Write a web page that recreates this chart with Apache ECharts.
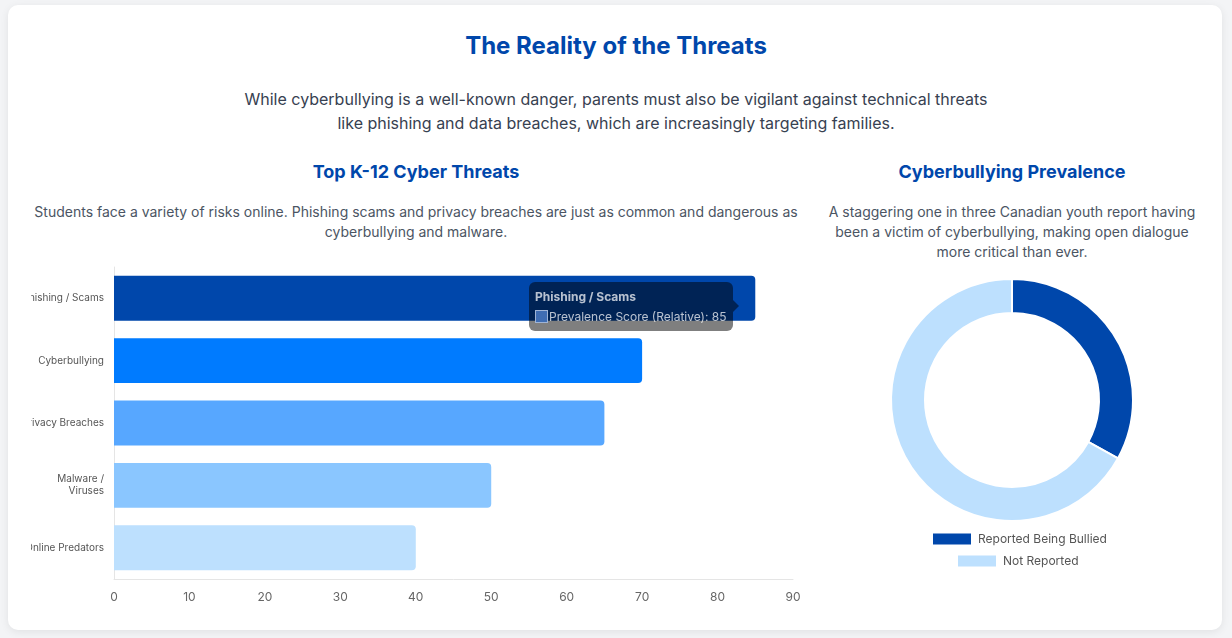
<!DOCTYPE html>
<html lang="en">
<head>
    <meta charset="UTF-8">
    <title>The Reality of the Threats</title>
    <style>
        html, body { margin: 0; padding: 0; }
        body { width: 1232px; height: 638px; background: #f3f4f6; font-family: Inter, "Noto Sans", sans-serif; position: relative; overflow: hidden; }
        .card { position: absolute; left: 8px; top: 5px; width: 1214px; height: 625px; background: #fff; border-radius: 10px; box-shadow: 0 2px 8px rgba(0,0,0,0.08); }
        .t { position: absolute; text-align: center; margin: 0; }
        h2.t { left: 0; width: 1232px; top: 30px; font-size: 24px; line-height: 32px; font-weight: 700; color: #0047ab; }
        p.sub { left: 216px; width: 800px; top: 87px; font-size: 16px; line-height: 24px; color: #374151; }
        h3.t { font-size: 18px; line-height: 28px; top: 158px; font-weight: 700; color: #0047ab; }
        p.desc { top: 202px; font-size: 14px; line-height: 20px; color: #4b5563; }
        .left { left: 31px; width: 770px; }
        .right { left: 822px; width: 380px; }
        #bar { position: absolute; left: 31px; top: 262px; width: 770px; height: 348px; }
        #pie { position: absolute; left: 822px; top: 262px; width: 380px; height: 348px; }
    </style>
</head>
<body>
<div class="card"></div>
<h2 class="t">The Reality of the Threats</h2>
<p class="t sub">While cyberbullying is a well-known danger, parents must also be vigilant against technical threats<br>like phishing and data breaches, which are increasingly targeting families.</p>
<h3 class="t left">Top K-12 Cyber Threats</h3>
<p class="t desc left">Students face a variety of risks online. Phishing scams and privacy breaches are just as common and dangerous as<br>cyberbullying and malware.</p>
<h3 class="t right">Cyberbullying Prevalence</h3>
<p class="t desc right">A staggering one in three Canadian youth report having<br>been a victim of cyberbullying, making open dialogue<br>more critical than ever.</p>
<div id="bar"></div>
<div id="pie"></div>
<script src="https://cdn.jsdelivr.net/npm/echarts@6/dist/echarts.min.js"></script>
<script type="text/javascript">
    // 数据
    var threatNames = ["Phishing / Scams", "Cyberbullying", "Privacy Breaches", "Malware / Viruses", "Online Predators"];
    var threatScores = [85, 70, 65, 50, 40];
    var threatColors = ["#0047ab", "#007bff", "#57a7ff", "#8ac6ff", "#bde0fe"];
    var xTicks = [0, 10, 20, 30, 40, 50, 60, 70, 80, 90];

    var bullyNames = ["Reported Being Bullied", "Not Reported"];
    var bullyValues = [33, 67];
    var bullyColors = ["#0047ab", "#bde0fe"];

    var barChart = echarts.init(document.getElementById("bar"));
    var barOption = {
        textStyle: { fontFamily: "Inter" },
        grid: { left: 83, right: 8, top: 5, bottom: 31, containLabel: false, outerBoundsMode: "none" },
        tooltip: {
            trigger: "item",
            triggerOn: "none",
            alwaysShowContent: true,
            transitionDuration: 0,
            backgroundColor: "rgba(0,0,0,0.5)",
            borderWidth: 0,
            borderRadius: 6,
            padding: [6, 6],
            extraCssText: "box-shadow:none;",
            position: [498, 20],
            formatter: function (p) {
                return '<div style="position:relative;color:rgba(255,255,255,0.72);font-family:Inter;font-size:12px;line-height:17px;">' +
                    '<div style="font-weight:700;margin-bottom:3px;">' + p.name + '</div>' +
                    '<div><span style="display:inline-block;width:11px;height:11px;background:#3f6db3;border:1px solid #9fb4d6;vertical-align:-2px;margin-right:1px;"></span>' +
                    'Prevalence Score (Relative): ' + p.value + '</div>' +
                    '<div style="position:absolute;right:-12px;top:12px;width:0;height:0;border-top:6px solid transparent;border-bottom:6px solid transparent;border-left:6px solid rgba(0,0,0,0.5);"></div>' +
                    '</div>';
            }
        },
        xAxis: {
            type: "value",
            min: xTicks[0],
            max: xTicks[xTicks.length - 1],
            interval: 10,
            axisLine: { show: true, lineStyle: { color: "#e5e5e5" } },
            axisTick: { show: false },
            splitLine: { show: false },
            axisLabel: { color: "#666", fontSize: 12, margin: 12 }
        },
        yAxis: {
            type: "category",
            inverse: true,
            data: threatNames,
            axisLine: { show: true, lineStyle: { color: "#e5e5e5" } },
            axisTick: { show: false },
            axisLabel: {
                color: "#555",
                fontSize: 10,
                margin: 10,
                lineHeight: 12,
                formatter: function (v) {
                    return v.length > 16 ? v.replace(" / ", " /\n") : v;
                }
            }
        },
        series: [{
            name: "Prevalence Score (Relative)",
            type: "bar",
            barCategoryGap: "28%",
            data: threatScores.map(function (v, i) {
                return { value: v, itemStyle: { color: threatColors[i] } };
            }),
            itemStyle: { borderRadius: [0, 4, 4, 0] },
            animation: false
        }]
    };
    barChart.setOption(barOption);
    barChart.dispatchAction({ type: "showTip", seriesIndex: 0, dataIndex: 0 });

    var pieChart = echarts.init(document.getElementById("pie"));
    var legendBase = {
        icon: "rect",
        itemWidth: 38,
        itemHeight: 11,
        itemGap: 7,
        itemStyle: { borderWidth: 0 },
        textStyle: { color: "#555", fontSize: 12, padding: [0, 0, 0, 2] }
    };
    var pieOption = {
        textStyle: { fontFamily: "Inter" },
        color: bullyColors,
        legend: [
            Object.assign({ data: [bullyNames[0]], top: 266, left: 106 }, legendBase),
            Object.assign({ data: [bullyNames[1]], top: 288, left: 131 }, legendBase)
        ],
        series: [{
            type: "pie",
            radius: [87, 121],
            center: [190, 138],
            startAngle: 90,
            label: { show: false },
            labelLine: { show: false },
            itemStyle: { borderColor: "#fff", borderWidth: 2 },
            data: bullyNames.map(function (n, i) {
                return { name: n, value: bullyValues[i] };
            }),
            animation: false
        }]
    };
    pieChart.setOption(pieOption);
</script>
</body>
</html>
